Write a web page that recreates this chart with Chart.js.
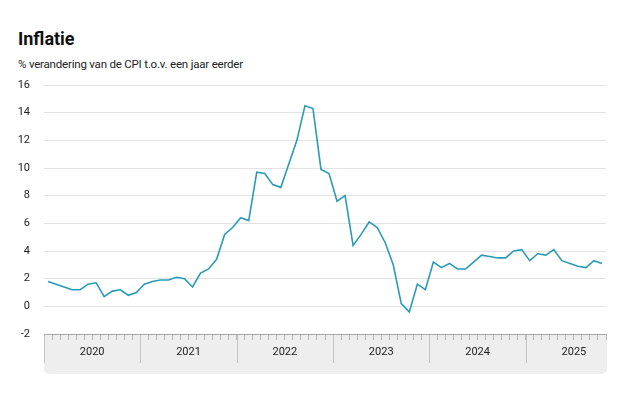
<!DOCTYPE html>
<html>
<head>
<meta charset="utf-8">
<script src="https://cdn.jsdelivr.net/npm/chart.js@4"></script>
<style>
  body { margin: 0; background: #fff; font-family: Roboto, "Noto Sans", sans-serif; }
  #wrap { position: relative; width: 626px; height: 418px; }
  h1 { position: absolute; left: 18px; top: 28px; margin: 0; font-size: 18px; font-weight: bold; color: #111; }
  .sub { position: absolute; left: 18px; top: 57px; margin: 0; font-size: 11.5px; letter-spacing: -0.2px; color: #222; }
  canvas { position: absolute; left: 0; top: 0; }
</style>
</head>
<body>
<div id="wrap">
  <h1>Inflatie</h1>
  <p class="sub">% verandering van de CPI t.o.v. een jaar eerder</p>
  <canvas id="myChart" width="626" height="418"></canvas>
</div>
<script>
const years = ['2020', '2021', '2022', '2023', '2024', '2025'];
const months = ['jan', 'feb', 'mrt', 'apr', 'mei', 'jun', 'jul', 'aug', 'sep', 'okt', 'nov', 'dec'];
const yTicks = [-2, 0, 2, 4, 6, 8, 10, 12, 14, 16];

// CPI jaar-op-jaar, jan 2020 t/m okt 2025
const cpi2020 = [1.8, 1.6, 1.4, 1.2, 1.2, 1.6, 1.7, 0.7, 1.1, 1.2, 0.8, 1.0];
const cpi2021 = [1.6, 1.8, 1.9, 1.9, 2.1, 2.0, 1.4, 2.4, 2.7, 3.4, 5.2, 5.7];
const cpi2022 = [6.4, 6.2, 9.7, 9.6, 8.8, 8.6, 10.3, 12.0, 14.5, 14.3, 9.9, 9.6];
const cpi2023 = [7.6, 8.0, 4.4, 5.2, 6.1, 5.7, 4.6, 3.0, 0.2, -0.4, 1.6, 1.2];
const cpi2024 = [3.2, 2.8, 3.1, 2.7, 2.7, 3.2, 3.7, 3.6, 3.5, 3.5, 4.0, 4.1];
const cpi2025 = [3.3, 3.8, 3.7, 4.1, 3.3, 3.1, 2.9, 2.8, 3.3, 3.1];

const values = [].concat(cpi2020, cpi2021, cpi2022, cpi2023, cpi2024, cpi2025);
const labels = values.map((v, i) => months[i % 12] + ' ' + years[Math.floor(i / 12)]);

const axisBox = {
  id: 'axisBox',
  beforeDraw(chart) {
    const ctx = chart.ctx;
    const a = chart.chartArea;
    const x = chart.scales.x;
    const left = a.left, right = a.right + 1, top = a.bottom, bottom = x.bottom;
    const r = 6;
    ctx.save();
    ctx.fillStyle = '#eeeeee';
    ctx.beginPath();
    ctx.moveTo(left, top);
    ctx.lineTo(right, top);
    ctx.lineTo(right, bottom - r);
    ctx.quadraticCurveTo(right, bottom, right - r, bottom);
    ctx.lineTo(left + r, bottom);
    ctx.quadraticCurveTo(left, bottom, left, bottom - r);
    ctx.closePath();
    ctx.fill();
    ctx.restore();
  },
  afterDraw(chart) {
    const ctx = chart.ctx;
    const a = chart.chartArea;
    const x = chart.scales.x;
    const half = (x.getPixelForValue(1) - x.getPixelForValue(0)) / 2;
    ctx.save();
    ctx.strokeStyle = '#c4c4c4';
    ctx.lineWidth = 1;
    for (let i = 0; i <= values.length; i += 12) {
      const px = Math.round(x.getPixelForValue(i) - half) + 0.5;
      ctx.beginPath();
      ctx.moveTo(px, a.bottom);
      ctx.lineTo(px, a.bottom + 29);
      ctx.stroke();
    }
    ctx.strokeStyle = '#a8a8a8';
    ctx.beginPath();
    ctx.moveTo(a.left, a.bottom + 0.5);
    ctx.lineTo(a.right + 1, a.bottom + 0.5);
    ctx.stroke();
    ctx.restore();
  }
};

const ctx = document.getElementById('myChart').getContext('2d');
const myChart = new Chart(ctx, {
  type: 'line',
  data: {
    labels: labels,
    datasets: [{
      label: 'CPI',
      data: values,
      borderColor: '#2a9bb7',
      borderWidth: 1.6,
      pointRadius: 0,
      tension: 0,
      fill: false
    }]
  },
  options: {
    responsive: false,
    animation: false,
    layout: { padding: { left: 0, right: 20, top: 85, bottom: 44 } },
    plugins: { legend: { display: false }, tooltip: { enabled: false } },
    scales: {
      x: {
        offset: true,
        afterFit: (s) => { s.height = 40; },
        border: { display: false },
        grid: {
          offset: true,
          drawOnChartArea: false,
          tickLength: 6,
          tickColor: '#b8b8b8'
        },
        ticks: {
          autoSkip: false,
          maxRotation: 0,
          padding: 6,
          labelOffset: -4,
          color: '#222',
          font: { family: 'Roboto', size: 11 },
          callback: (v, i) => (i % 12 === 6 ? years[Math.floor(i / 12)] : '')
        }
      },
      y: {
        min: -2,
        max: 16,
        afterFit: (s) => { s.width = 44; },
        afterBuildTicks: (s) => { s.ticks = yTicks.map(v => ({ value: v })); },
        border: { display: false },
        grid: {
          drawTicks: false,
          color: (c) => (c.tick && c.tick.value === -2 ? 'rgba(0,0,0,0)' : '#e2e2e2')
        },
        ticks: {
          padding: 14,
          color: '#222',
          font: { family: 'Roboto', size: 11 }
        }
      }
    }
  },
  plugins: [axisBox]
});
</script>
</body>
</html>
